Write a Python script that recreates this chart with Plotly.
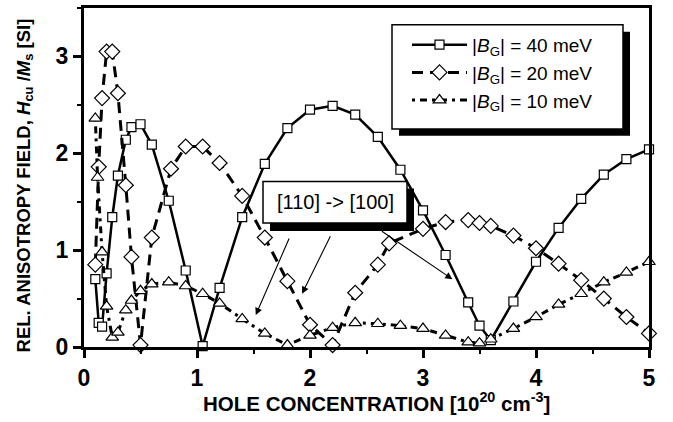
import plotly.graph_objects as go

# ---------------- data ----------------
x_40 = [0.10, 0.13, 0.16, 0.20, 0.25, 0.30, 0.37, 0.42, 0.50, 0.60, 0.75, 0.90, 1.05, 1.20,
        1.40, 1.60, 1.80, 2.00, 2.20, 2.40, 2.60, 2.80, 3.00, 3.20, 3.40, 3.50, 3.60, 3.80,
        4.00, 4.20, 4.40, 4.60, 4.80, 5.00]
y_40 = [0.70, 0.25, 0.21, 0.76, 1.34, 1.77, 2.14, 2.27, 2.30, 2.09, 1.51, 0.79, 0.01, 0.61,
        1.34, 1.89, 2.26, 2.45, 2.49, 2.40, 2.17, 1.83, 1.41, 0.95, 0.46, 0.22, 0.07, 0.47,
        0.88, 1.23, 1.53, 1.78, 1.94, 2.04]

x_20 = [0.10, 0.13, 0.16, 0.20, 0.25, 0.30, 0.37, 0.42, 0.50, 0.60, 0.77, 0.90, 1.05, 1.20,
        1.40, 1.60, 1.80, 2.00, 2.20, 2.40, 2.60, 2.70, 3.00, 3.20, 3.40, 3.50, 3.60, 3.80,
        4.00, 4.20, 4.40, 4.60, 4.80, 5.00]
y_20 = [0.85, 1.86, 2.57, 3.05, 3.05, 2.62, 1.67, 0.93, 0.02, 1.13, 1.84, 2.07, 2.07, 1.90,
        1.56, 1.13, 0.68, 0.23, 0.02, 0.56, 0.85, 1.07, 1.22, 1.29, 1.31, 1.28, 1.25, 1.15,
        1.02, 0.86, 0.69, 0.50, 0.31, 0.14]

x_10 = [0.10, 0.12, 0.16, 0.20, 0.25, 0.30, 0.37, 0.42, 0.50, 0.60, 0.75, 0.90, 1.05, 1.20,
        1.40, 1.60, 1.80, 2.00, 2.20, 2.40, 2.60, 2.80, 3.00, 3.20, 3.40, 3.50, 3.60, 3.80,
        4.00, 4.20, 4.40, 4.60, 4.80, 5.00]
y_10 = [2.36, 1.75, 0.98, 0.42, 0.10, 0.15, 0.38, 0.48, 0.58, 0.65, 0.67, 0.63, 0.55, 0.45,
        0.29, 0.14, 0.02, 0.12, 0.20, 0.25, 0.24, 0.22, 0.19, 0.12, 0.05, 0.04, 0.08, 0.19,
        0.31, 0.44, 0.55, 0.67, 0.77, 0.88]

series_names = ["|<i>B</i><sub>G</sub>| = 40 meV",
                "|<i>B</i><sub>G</sub>| = 20 meV",
                "|<i>B</i><sub>G</sub>| = 10 meV"]

x_ticks = [0, 1, 2, 3, 4, 5]
y_ticks = [0, 1, 2, 3]

# arrow tips (data coords) of the "[110] -> [100]" note
arrow_x = [1.52, 1.93, 3.26]
arrow_y = [0.33, 0.55, 0.70]
note_text = "[110] -> [100]"

# ---------------- figure ----------------
W_FIG, H_FIG = 673, 422
L, T, PW, PH = 84, 5, 565, 342
def pxp(x):
    return (x - L) / PW
def pyp(y):
    return (T + PH - y) / PH

BOLD = "Liberation Sans, Arial, sans-serif"
REG = "Liberation Sans, Arial, sans-serif"

fig = go.Figure()
fig.add_trace(go.Scatter(
    x=x_40, y=y_40, name=series_names[0], mode="lines+markers", cliponaxis=False,
    line=dict(color="black", width=2.5),
    marker=dict(symbol="square", size=9, color="white", line=dict(color="black", width=1.2))))
fig.add_trace(go.Scatter(
    x=x_20, y=y_20, name=series_names[1], mode="lines+markers", cliponaxis=False,
    line=dict(color="black", width=3, dash="11px,7px"),
    marker=dict(symbol="diamond", size=11.5, color="white", line=dict(color="black", width=1.2))))
fig.add_trace(go.Scatter(
    x=x_10, y=y_10, name=series_names[2], mode="lines+markers", cliponaxis=False,
    line=dict(color="black", width=3, dash="3px,5px,7px,5px"),
    marker=dict(symbol="triangle-up", size=11, color="white", line=dict(color="black", width=1.2))))

axis_common = dict(showline=True, linewidth=3, linecolor="black", mirror=True,
                   showgrid=False, zeroline=False)
fig.update_xaxes(range=[0, 5], tickvals=x_ticks, ticks="outside", ticklen=8, tickwidth=2.5,
                 tickcolor="black",
                 minor=dict(dtick=0.5, ticks="outside", ticklen=4, tickwidth=2, tickcolor="black"),
                 tickfont=dict(family=BOLD, size=23, color="black", weight="bold"),
                 **axis_common)
fig.update_yaxes(range=[0, 3.5], tickvals=y_ticks, ticks="outside", ticklen=8, tickwidth=2.5,
                 tickcolor="black",
                 minor=dict(dtick=0.5, ticks="outside", ticklen=4, tickwidth=2, tickcolor="black"),
                 tickfont=dict(family=BOLD, size=23, color="black", weight="bold"),
                 **axis_common)

# inner ticks on the top and right frame
fig.update_layout(
    xaxis2=dict(overlaying="x", side="top", range=[0, 5], dtick=0.5, tick0=0, ticks="inside",
                ticklen=5, tickwidth=2, tickcolor="black", showticklabels=False,
                showgrid=False, zeroline=False, showline=False),
    yaxis2=dict(overlaying="y", side="right", range=[0, 3.5], dtick=0.5, tick0=0, ticks="inside",
                ticklen=5, tickwidth=2, tickcolor="black", showticklabels=False,
                showgrid=False, zeroline=False, showline=False),
)

shapes = [
    # legend box with shadow
    dict(type="rect", xref="paper", yref="paper", x0=pxp(399), x1=pxp(630), y0=pyp(134), y1=pyp(29),
         fillcolor="black", line=dict(width=0), layer="below"),
    dict(type="rect", xref="paper", yref="paper", x0=pxp(392), x1=pxp(623), y0=pyp(127), y1=pyp(22),
         fillcolor="white", line=dict(color="black", width=1.5), layer="below"),
    # note box with shadow
    dict(type="rect", xref="paper", yref="paper", x0=pxp(270), x1=pxp(414), y0=pyp(230), y1=pyp(187),
         fillcolor="black", line=dict(width=0), layer="below"),
    dict(type="rect", xref="paper", yref="paper", x0=pxp(263), x1=pxp(407), y0=pyp(222), y1=pyp(180),
         fillcolor="white", line=dict(color="black", width=1.5), layer="below"),
]

annotations = [
    dict(xref="paper", yref="paper", x=pxp(335), y=pyp(201), text=note_text, showarrow=False,
         font=dict(family=REG, size=20, color="black"), xanchor="center", yanchor="middle"),
    dict(xref="paper", yref="paper", x=pxp(376), y=pyp(402),
         text="HOLE CONCENTRATION [10<sup>20</sup> cm<sup>-3</sup>]", showarrow=False,
         font=dict(family=BOLD, size=20.5, color="black", weight="bold"),
         xanchor="center", yanchor="middle"),
    dict(xref="paper", yref="paper", x=pxp(25), y=pyp(184),
         text="REL. ANISOTROPY FIELD, <i>H</i><sub>cu</sub> /<i>M</i><sub>s</sub> [SI]",
         showarrow=False, textangle=-90,
         font=dict(family=BOLD, size=18.5, color="black", weight="bold"),
         xanchor="center", yanchor="middle"),
]
tails = [(290, 237), (331, 234), (380, 230)]
tips_px = [(256, 315), (302, 293), (452, 279)]
for (ax_, ay_), (tx, ty), xa, ya in zip(tails, tips_px, arrow_x, arrow_y):
    annotations.append(dict(x=xa, y=ya, xref="x", yref="y", text="", showarrow=True,
                            arrowhead=2, arrowsize=1.3, arrowwidth=1.1, arrowcolor="black",
                            ax=ax_ - tx, ay=ay_ - ty, axref="pixel", ayref="pixel"))

fig.update_layout(
    width=W_FIG, height=H_FIG,
    margin=dict(l=L, r=W_FIG - L - PW, t=T, b=H_FIG - T - PH),
    paper_bgcolor="white", plot_bgcolor="white",
    shapes=shapes, annotations=annotations,
    legend=dict(x=pxp(407), y=pyp(23), xanchor="left", yanchor="top",
                bgcolor="rgba(0,0,0,0)", borderwidth=0, itemwidth=55,
                font=dict(family=REG, size=19, color="black"), tracegroupgap=0),
    showlegend=True,
)

fig.write_html("out.html", config={"displayModeBar": False},
               post_script="document.body.style.margin='0';document.body.style.padding='0';")
